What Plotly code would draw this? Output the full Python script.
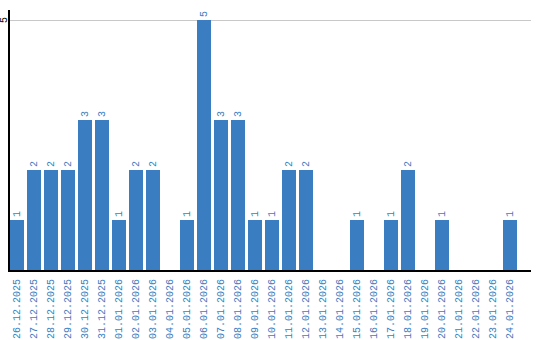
import plotly.graph_objects as go

dates = ["26.12.2025", "27.12.2025", "28.12.2025", "29.12.2025", "30.12.2025", "31.12.2025",
         "01.01.2026", "02.01.2026", "03.01.2026", "04.01.2026", "05.01.2026", "06.01.2026",
         "07.01.2026", "08.01.2026", "09.01.2026", "10.01.2026", "11.01.2026", "12.01.2026",
         "13.01.2026", "14.01.2026", "15.01.2026", "16.01.2026", "17.01.2026", "18.01.2026",
         "19.01.2026", "20.01.2026", "21.01.2026", "22.01.2026", "23.01.2026", "24.01.2026"]
counts = [1, 2, 2, 2, 3, 3, 1, 2, 2, 0, 1, 5, 3, 3, 1, 1, 2, 2, 0, 0, 1, 0, 1, 2, 0, 1, 0, 0, 0, 1]
y_ticks = [5]
y_tick_labels = ["5"]

blue = "#3b7dc1"
font_family = "Liberation Mono"
labels = [str(v) if v > 0 else "" for v in counts]

fig = go.Figure(go.Bar(
    x=dates, y=counts, marker=dict(color=blue, line=dict(width=0)),
    width=14/17,
    text=labels, textposition="outside", textangle=-90,
    textfont=dict(family=font_family, size=10, color=blue),
    cliponaxis=False,
))

for tv, tl in zip(y_ticks, y_tick_labels):
    fig.add_annotation(x=0, xref="paper", y=tv, yref="y", text=tl, showarrow=False,
                       textangle=-90, xanchor="center", yanchor="middle", xshift=-6,
                       borderpad=0,
                       font=dict(family=font_family, size=10, color="black"))

r0 = -7/17
fig.update_layout(
    width=540, height=340,
    margin=dict(l=10, r=9, t=10, b=70),
    paper_bgcolor="white", plot_bgcolor="white",
    showlegend=False,
    xaxis=dict(type="category", range=[r0, r0 + 521/17], automargin=False,
               tickangle=-90, tickfont=dict(family=font_family, size=10, color=blue),
               showgrid=False, showline=True, linecolor="black", linewidth=2,
               ticks="", ticklabelstandoff=3),
    yaxis=dict(range=[0, 5.2], tickvals=y_ticks, showticklabels=False, automargin=False,
               showgrid=True, gridcolor="#c8c8c8", gridwidth=1,
               showline=True, linecolor="black", linewidth=2, zeroline=False,
               ticks=""),
)

fig.write_html("out.html")
